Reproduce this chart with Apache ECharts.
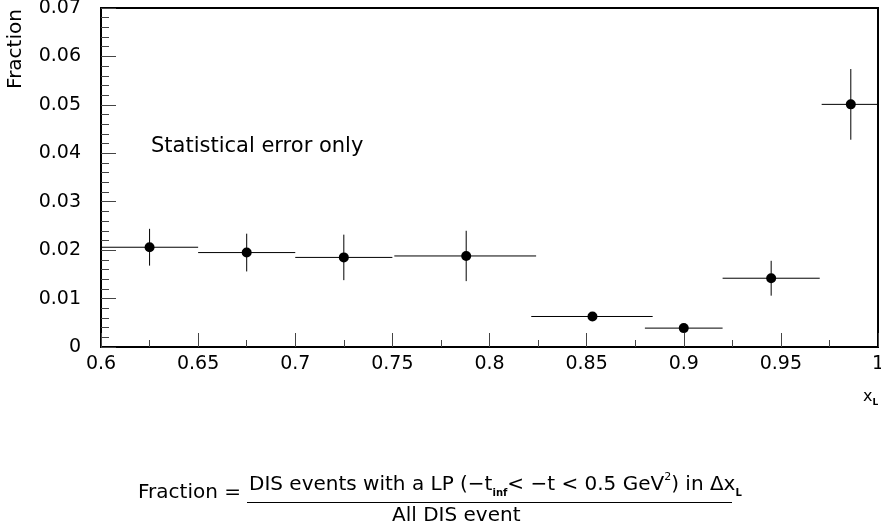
<!DOCTYPE html>
<html>
<head>
<meta charset="utf-8">
<script src="https://cdn.jsdelivr.net/npm/echarts@6/dist/echarts.min.js"></script>
<style>html,body{margin:0;padding:0;background:#fff;}#c{width:881px;height:532px;}</style>
</head>
<body>
<div id="c"></div>
<script>
// Bin centres (x_L), measured fraction, bin edges and statistical errors
var xCenter = [0.625, 0.675, 0.725, 0.788, 0.853, 0.900, 0.945, 0.986];
var fraction = [0.0206, 0.0195, 0.0185, 0.0188, 0.0063, 0.0039, 0.0142, 0.0501];
var xLow = [0.600, 0.650, 0.700, 0.751, 0.8215, 0.880, 0.920, 0.971];
var xHigh = [0.650, 0.700, 0.750, 0.824, 0.884, 0.920, 0.970, 1.000];
var yErr = [0.0038, 0.0039, 0.0047, 0.0052, 0.0006, 0.0006, 0.0036, 0.0073];
var xTicks = [0.6, 0.65, 0.7, 0.75, 0.8, 0.85, 0.9, 0.95, 1];
var yTicks = [0, 0.01, 0.02, 0.03, 0.04, 0.05, 0.06, 0.07];

var FONT = 'DejaVu Sans';
var errData = xCenter.map(function (x, i) {
  return [x, fraction[i], xLow[i], xHigh[i], yErr[i]];
});
var ptData = xCenter.map(function (x, i) { return [x, fraction[i]]; });

function fmt(v) { return String(parseFloat(Number(v).toFixed(4))); }

var chart = echarts.init(document.getElementById('c'), null, { renderer: 'canvas' });
chart.setOption({
  animation: false,
  backgroundColor: '#fff',
  grid: {
    left: 101, right: 3, top: 8, bottom: 185,
    outerBoundsMode: 'none', containLabel: false,
    show: true, borderColor: '#000', borderWidth: 2, backgroundColor: 'transparent'
  },
  xAxis: {
    type: 'value', min: xTicks[0], max: xTicks[xTicks.length - 1], interval: 0.05,
    axisLine: { show: true, lineStyle: { color: '#000', width: 2 } },
    axisTick: { show: true, inside: true, length: 14, lineStyle: { color: '#444', width: 1 } },
    minorTick: { show: true, splitNumber: 2, length: 7, lineStyle: { color: '#444', width: 1 } },
    splitLine: { show: false },
    axisLabel: { margin: 8, color: '#000', fontFamily: FONT, fontSize: 19, formatter: fmt, hideOverlap: false }
  },
  yAxis: {
    type: 'value', min: yTicks[0], max: yTicks[yTicks.length - 1], interval: 0.01,
    axisLine: { show: true, lineStyle: { color: '#000', width: 2 } },
    axisTick: { show: true, inside: true, length: 15, lineStyle: { color: '#444', width: 1 } },
    minorTick: { show: true, splitNumber: 5, length: 8, lineStyle: { color: '#444', width: 1 } },
    splitLine: { show: false },
    axisLabel: { margin: 20, color: '#000', fontFamily: FONT, fontSize: 19, formatter: fmt, hideOverlap: false }
  },
  series: [
    {
      type: 'custom',
      data: errData,
      encode: { x: 0, y: 1 },
      renderItem: function (params, api) {
        var xc = api.value(0), y = api.value(1), xl = api.value(2), xh = api.value(3), e = api.value(4);
        var pL = api.coord([xl, y]), pR = api.coord([xh, y]);
        var pT = api.coord([xc, y + e]), pB = api.coord([xc, y - e]);
        return {
          type: 'group',
          children: [
            { type: 'line', shape: { x1: pL[0], y1: pL[1], x2: pR[0], y2: pR[1] }, style: { stroke: '#000', lineWidth: 1 } },
            { type: 'line', shape: { x1: pT[0], y1: pT[1], x2: pB[0], y2: pB[1] }, style: { stroke: '#000', lineWidth: 1 } }
          ]
        };
      },
      z: 2
    },
    {
      type: 'scatter',
      data: ptData,
      symbol: 'circle',
      symbolSize: 10,
      itemStyle: { color: '#000', opacity: 1 },
      z: 3
    }
  ],
  graphic: [
    { type: 'text', left: 151, top: 136, style: { text: 'Statistical error only', fontFamily: FONT, fontSize: 21, fill: '#000' } },
    { type: 'text', x: 16, y: 49, rotation: Math.PI / 2,
      style: { text: 'Fraction', fontFamily: FONT, fontSize: 20, fill: '#000', align: 'center', verticalAlign: 'middle' } },
    { type: 'text', x: 863, y: 398,
      style: {
        text: '{b|x}{s|L}', fill: '#000', verticalAlign: 'middle',
        rich: {
          b: { fontFamily: FONT, fontSize: 16, lineHeight: 18, verticalAlign: 'top' },
          s: { fontFamily: FONT, fontSize: 9, lineHeight: 10, verticalAlign: 'bottom', fontWeight: 'bold' }
        }
      } },
    { type: 'text', x: 241, y: 493,
      style: { text: 'Fraction =', fontFamily: FONT, fontSize: 20, fill: '#000', align: 'right', verticalAlign: 'middle' } },
    { type: 'text', x: 249, y: 485,
      style: {
        text: '{n|DIS events with a LP (\u2212t}{s|inf}{n|< \u2212t < 0.5 GeV}{p|2}{n|) in \u0394x}{s|L}',
        fill: '#000', align: 'left', verticalAlign: 'middle',
        rich: {
          n: { fontFamily: FONT, fontSize: 20, lineHeight: 26, verticalAlign: 'middle' },
          s: { fontFamily: FONT, fontSize: 10, lineHeight: 13, verticalAlign: 'bottom', fontWeight: 'bold' },
          p: { fontFamily: FONT, fontSize: 11, lineHeight: 16, verticalAlign: 'top' }
        }
      } },
    { type: 'line', shape: { x1: 247, y1: 502.5, x2: 732, y2: 502.5 }, style: { stroke: '#000', lineWidth: 1 } },
    { type: 'text', x: 392, y: 516,
      style: { text: 'All DIS event', fontFamily: FONT, fontSize: 20, fill: '#000', align: 'left', verticalAlign: 'middle' } }
  ]
});
</script>
</body>
</html>
